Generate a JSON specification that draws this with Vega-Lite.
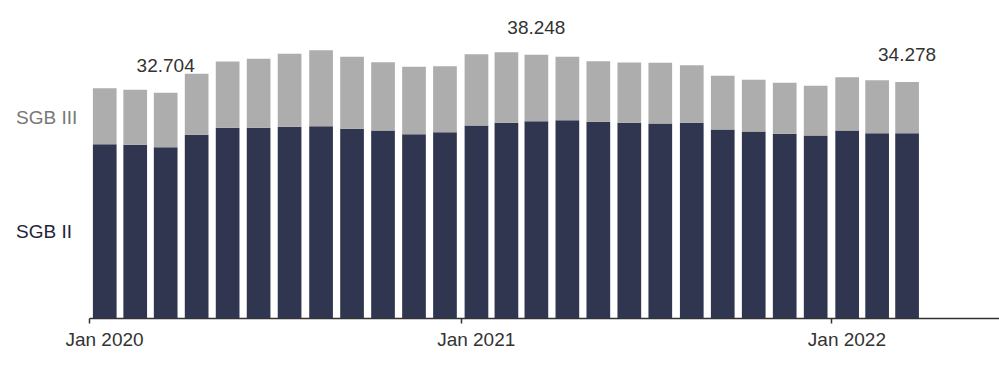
{
  "$schema": "https://vega.github.io/schema/vega-lite/v6.json",
  "width": 910,
  "height": 318,
  "autosize": {"type": "none"},
  "padding": {"left": 89, "top": 0, "right": 0, "bottom": 48},
  "config": {
    "view": {"stroke": null},
    "font": "Liberation Sans",
    "locale": {"number": {"decimal": ",", "thousands": ".", "grouping": [3], "currency": ["", " €"]}}
  },
  "data": {
    "values": [
      {"month": "2020-01-01", "typ": "SGB II", "value": 25243}, {"month": "2020-01-01", "typ": "SGB III", "value": 8134},
      {"month": "2020-02-01", "typ": "SGB II", "value": 25156}, {"month": "2020-02-01", "typ": "SGB III", "value": 7989},
      {"month": "2020-03-01", "typ": "SGB II", "value": 24808}, {"month": "2020-03-01", "typ": "SGB III", "value": 7896},
      {"month": "2020-04-01", "typ": "SGB II", "value": 26608}, {"month": "2020-04-01", "typ": "SGB III", "value": 8860},
      {"month": "2020-05-01", "typ": "SGB II", "value": 27625}, {"month": "2020-05-01", "typ": "SGB III", "value": 9630},
      {"month": "2020-06-01", "typ": "SGB II", "value": 27625}, {"month": "2020-06-01", "typ": "SGB III", "value": 10022},
      {"month": "2020-07-01", "typ": "SGB II", "value": 27770}, {"month": "2020-07-01", "typ": "SGB III", "value": 10603},
      {"month": "2020-08-01", "typ": "SGB II", "value": 27858}, {"month": "2020-08-01", "typ": "SGB III", "value": 11038},
      {"month": "2020-09-01", "typ": "SGB II", "value": 27480}, {"month": "2020-09-01", "typ": "SGB III", "value": 10458},
      {"month": "2020-10-01", "typ": "SGB II", "value": 27233}, {"month": "2020-10-01", "typ": "SGB III", "value": 9920},
      {"month": "2020-11-01", "typ": "SGB II", "value": 26696}, {"month": "2020-11-01", "typ": "SGB III", "value": 9789},
      {"month": "2020-12-01", "typ": "SGB II", "value": 26986}, {"month": "2020-12-01", "typ": "SGB III", "value": 9586},
      {"month": "2021-01-01", "typ": "SGB II", "value": 27959}, {"month": "2021-01-01", "typ": "SGB III", "value": 10356},
      {"month": "2021-02-01", "typ": "SGB II", "value": 28351}, {"month": "2021-02-01", "typ": "SGB III", "value": 10255},
      {"month": "2021-03-01", "typ": "SGB II", "value": 28584}, {"month": "2021-03-01", "typ": "SGB III", "value": 9664},
      {"month": "2021-04-01", "typ": "SGB II", "value": 28729}, {"month": "2021-04-01", "typ": "SGB III", "value": 9209},
      {"month": "2021-05-01", "typ": "SGB II", "value": 28497}, {"month": "2021-05-01", "typ": "SGB III", "value": 8801},
      {"month": "2021-06-01", "typ": "SGB II", "value": 28351}, {"month": "2021-06-01", "typ": "SGB III", "value": 8759},
      {"month": "2021-07-01", "typ": "SGB II", "value": 28250}, {"month": "2021-07-01", "typ": "SGB III", "value": 8816},
      {"month": "2021-08-01", "typ": "SGB II", "value": 28351}, {"month": "2021-08-01", "typ": "SGB III", "value": 8367},
      {"month": "2021-09-01", "typ": "SGB II", "value": 27378}, {"month": "2021-09-01", "typ": "SGB III", "value": 7800},
      {"month": "2021-10-01", "typ": "SGB II", "value": 27088}, {"month": "2021-10-01", "typ": "SGB III", "value": 7509},
      {"month": "2021-11-01", "typ": "SGB II", "value": 26754}, {"month": "2021-11-01", "typ": "SGB III", "value": 7407},
      {"month": "2021-12-01", "typ": "SGB II", "value": 26507}, {"month": "2021-12-01", "typ": "SGB III", "value": 7218},
      {"month": "2022-01-01", "typ": "SGB II", "value": 27233}, {"month": "2022-01-01", "typ": "SGB III", "value": 7742},
      {"month": "2022-02-01", "typ": "SGB II", "value": 26841}, {"month": "2022-02-01", "typ": "SGB III", "value": 7698},
      {"month": "2022-03-01", "typ": "SGB II", "value": 26841}, {"month": "2022-03-01", "typ": "SGB III", "value": 7437}
    ]
  },
  "layer": [
    {
      "mark": {"type": "bar", "width": 23.7},
      "encoding": {
        "x": {
          "field": "month", "type": "temporal", "timeUnit": "utcyearmonth", "bandPosition": 0.5,
          "scale": {"type": "utc", "domain": [{"year": 2020, "month": 1, "date": 1, "utc": true}, {"year": 2022, "month": 6, "date": 15, "utc": true}]},
          "axis": {
            "title": null,
            "values": [{"year": 2020, "month": 1, "date": 1, "utc": true}, {"year": 2021, "month": 1, "date": 1, "utc": true}, {"year": 2022, "month": 1, "date": 1, "utc": true}],
            "format": "%b %Y", "formatType": "utc",
            "grid": false, "domainColor": "#333333", "domainWidth": 1.5,
            "tickColor": "#333333", "tickSize": 5, "tickWidth": 1.5,
            "labelFlush": false,
            "labelOffset": 15, "labelPadding": 7, "labelFontSize": 19, "labelColor": "#333333", "labelFont": "Liberation Sans"
          }
        },
        "y": {
          "field": "value", "type": "quantitative", "stack": "zero",
          "scale": {"domain": [0, 46187], "nice": false},
          "axis": {
            "title": null, "domain": false, "ticks": false, "grid": false, "tickSize": 0,
            "values": [12500, 29100],
            "labelExpr": "datum.value > 20000 ? 'SGB III' : 'SGB II'",
            "labelAlign": "left", "labelBaseline": "middle", "labelPadding": 73.5,
            "labelFontSize": 19, "labelFont": "Liberation Sans",
            "labelColor": {"condition": {"test": "datum.value > 20000", "value": "#777777"}, "value": "#1f2438"}
          }
        },
        "color": {
          "field": "typ", "type": "nominal",
          "scale": {"domain": ["SGB II", "SGB III"], "range": ["#30364f", "#adadad"]},
          "legend": null
        },
        "order": {"field": "typ", "sort": "ascending"}
      }
    },
    {
      "transform": [
        {"aggregate": [{"op": "sum", "field": "value", "as": "total"}], "groupby": ["month"]},
        {"filter": "utcmonth(datum.month) == 2"}
      ],
      "mark": {"type": "text", "baseline": "alphabetic", "dy": -20.5, "fontSize": 19, "color": "#333333", "font": "Liberation Sans"},
      "encoding": {
        "x": {"field": "month", "type": "temporal", "timeUnit": "utcyearmonth", "bandPosition": 0.5},
        "y": {"field": "total", "type": "quantitative"},
        "text": {"field": "total", "type": "quantitative", "format": ",d"}
      }
    }
  ]
}
